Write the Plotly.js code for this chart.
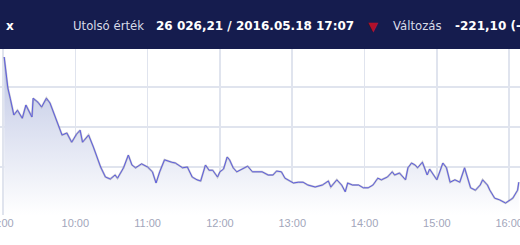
<!DOCTYPE html>
<html>
<head>
<meta charset="utf-8">
<script src="https://cdn.plot.ly/plotly-3.0.1.min.js"></script>
<style>
html,body{margin:0;padding:0;background:#fff;}
#chart{width:520px;height:245px;}
</style>
</head>
<body>
<div id="chart"></div>
<script>
const day = "2016-05-18";
const times = [
"09:01","09:04","09:06","09:09","09:12","09:16","09:19","09:22","09:24","09:25",
"09:29","09:32","09:36","09:39","09:42","09:46","09:49","09:53","09:57","10:01",
"10:04","10:06","10:11","10:15","10:18","10:21","10:25","10:29","10:33","10:35",
"10:40","10:44","10:47","10:50","10:55","11:00","11:04","11:07","11:10","11:14",
"11:20","11:23","11:29","11:33","11:37","11:41","11:44","11:48","11:51","11:54",
"11:58","12:00","12:03","12:06","12:08","12:11","12:14","12:18","12:23","12:27",
"12:32","12:35","12:40","12:44","12:47","12:51","12:54","12:56","13:01","13:05",
"13:09","13:13","13:19","13:25","13:30","13:32","13:37","13:41","13:44","13:46",
"13:50","13:55","13:59","14:03","14:07","14:11","14:14","14:19","14:23","14:25",
"14:29","14:34","14:36","14:39","14:42","14:44","14:48","14:52","14:54","15:00",
"15:05","15:08","15:11","15:15","15:19","15:23","15:28","15:32","15:36","15:38",
"15:42","15:44","15:48","15:52","15:57","16:01","16:03","16:07","16:08"
];
const values = [
26275,26198,26172,26130,26142,26122,26155,26135,26125,26172,
26162,26150,26172,26160,26135,26100,26080,26085,26062,26082,
26092,26062,26080,26050,26025,26000,25975,25970,25980,25972,
25998,26030,26005,25998,26008,26000,25988,25960,25988,26018,
26012,26010,25998,26000,25975,25968,25965,26005,25992,25992,
25975,25988,25995,26025,26018,25998,25988,25995,26002,25988,
25988,25988,25980,25980,25990,25988,25972,25968,25960,25962,
25962,25955,25950,25955,25965,25950,25968,25955,25938,25960,
25955,25955,25948,25948,25955,25972,25968,25975,25988,25980,
25985,25968,25998,26010,26005,25998,26012,25980,25995,25968,
26010,25998,25962,25968,25962,25998,25948,25942,25955,25968,
25955,25942,25922,25918,25910,25918,25922,25942,25962
];
const yMin = 25880, yMax = 26295;
const gridVals = [26000, 26100, 26200];
const tickTimes = ["09:00","10:00","11:00","12:00","13:00","14:00","15:00","16:00"];

const header = {
  name: "x",
  lastLabel: "Utolsó érték",
  lastValue: "26 026,21 / 2016.05.18 17:07",
  changeLabel: "Változás",
  changeValue: "-221,10 (-0,84%)"
};

const xs = times.map(t => day + " " + t);
const base = xs.map(() => yMin);

const traces = [
  {x: xs, y: base, type: "scatter", mode: "lines", line: {width: 0}, hoverinfo: "skip", showlegend: false},
  {x: xs, y: values, type: "scatter", mode: "lines", fill: "tonexty",
   line: {width: 0, color: "rgba(0,0,0,0)"},
   fillgradient: {type: "vertical", start: yMin, stop: Math.max(...values),
     colorscale: [[0, "rgba(255,255,255,1)"], [1, "rgba(190,198,228,1)"]]},
   hoverinfo: "skip", showlegend: false},
  {x: xs, y: values, type: "scatter", mode: "lines",
   line: {width: 2, color: "rgba(125,125,140,0.45)"}, hoverinfo: "skip", showlegend: false},
  {x: xs, y: values, type: "scatter", mode: "lines",
   line: {width: 1, color: "#5e5ee0"}, hoverinfo: "skip", showlegend: false}
];

const H = 166; // plot height px for paper conversions
const py = p => 1 + (49 - p) / H;
const font = "DejaVu Sans, Verdana, sans-serif";

const layout = {
  width: 520, height: 245,
  margin: {l: 0, r: 0, t: 49, b: 30, pad: 0},
  paper_bgcolor: "#ffffff", plot_bgcolor: "#ffffff",
  showlegend: false,
  xaxis: {
    type: "date",
    range: [day + " 08:57:30", day + " 16:09:00"],
    tickvals: tickTimes.map(t => day + " " + t),
    ticktext: tickTimes.map(t => t.replace(/^0/, "")),
    ticklabeloverflow: "allow",
    showgrid: true, gridcolor: "#e0e4ee", gridwidth: 1.5,
    zeroline: false, showline: false, ticks: "",
    tickfont: {family: "Liberation Sans, Arial, sans-serif", size: 11, color: "#a2a6bb"},
    automargin: false
  },
  yaxis: {
    range: [yMin, yMax],
    tickvals: gridVals, showticklabels: false,
    showgrid: true, gridcolor: "#e0e4ee", gridwidth: 1.5,
    zeroline: false, showline: false, ticks: "", automargin: false
  },
  shapes: [
    {type: "rect", xref: "paper", yref: "paper", x0: 0, x1: 1, y0: 1, y1: py(0),
     fillcolor: "#151c4e", line: {width: 0}, layer: "above"}
  ],
  annotations: [
    {xref: "paper", yref: "paper", x: 4/520, y: py(26), xanchor: "left", yanchor: "middle",
     text: "<b>" + header.name + "</b>", showarrow: false, font: {family: font, size: 12, color: "#ffffff"}},
    {xref: "paper", yref: "paper", x: 71/520, y: py(26), xanchor: "left", yanchor: "middle",
     text: header.lastLabel, showarrow: false, font: {family: font, size: 11.7, color: "#d8dbe8"}},
    {xref: "paper", yref: "paper", x: 154/520, y: py(26), xanchor: "left", yanchor: "middle",
     text: "<b>" + header.lastValue + "</b>", showarrow: false, font: {family: font, size: 12, color: "#ffffff"}},
    {xref: "paper", yref: "paper", x: 373/520, y: py(27), xanchor: "center", yanchor: "middle",
     text: "▼", showarrow: false, font: {family: font, size: 13, color: "#b0102a"}},
    {xref: "paper", yref: "paper", x: 391/520, y: py(26), xanchor: "left", yanchor: "middle",
     text: header.changeLabel, showarrow: false, font: {family: font, size: 11.7, color: "#d8dbe8"}},
    {xref: "paper", yref: "paper", x: 453/520, y: py(26), xanchor: "left", yanchor: "middle",
     text: "<b>" + header.changeValue + "</b>", showarrow: false, font: {family: font, size: 12, color: "#ffffff"}}
  ]
};

Plotly.newPlot("chart", traces, layout, {staticPlot: true, displayModeBar: false});
</script>
</body>
</html>
